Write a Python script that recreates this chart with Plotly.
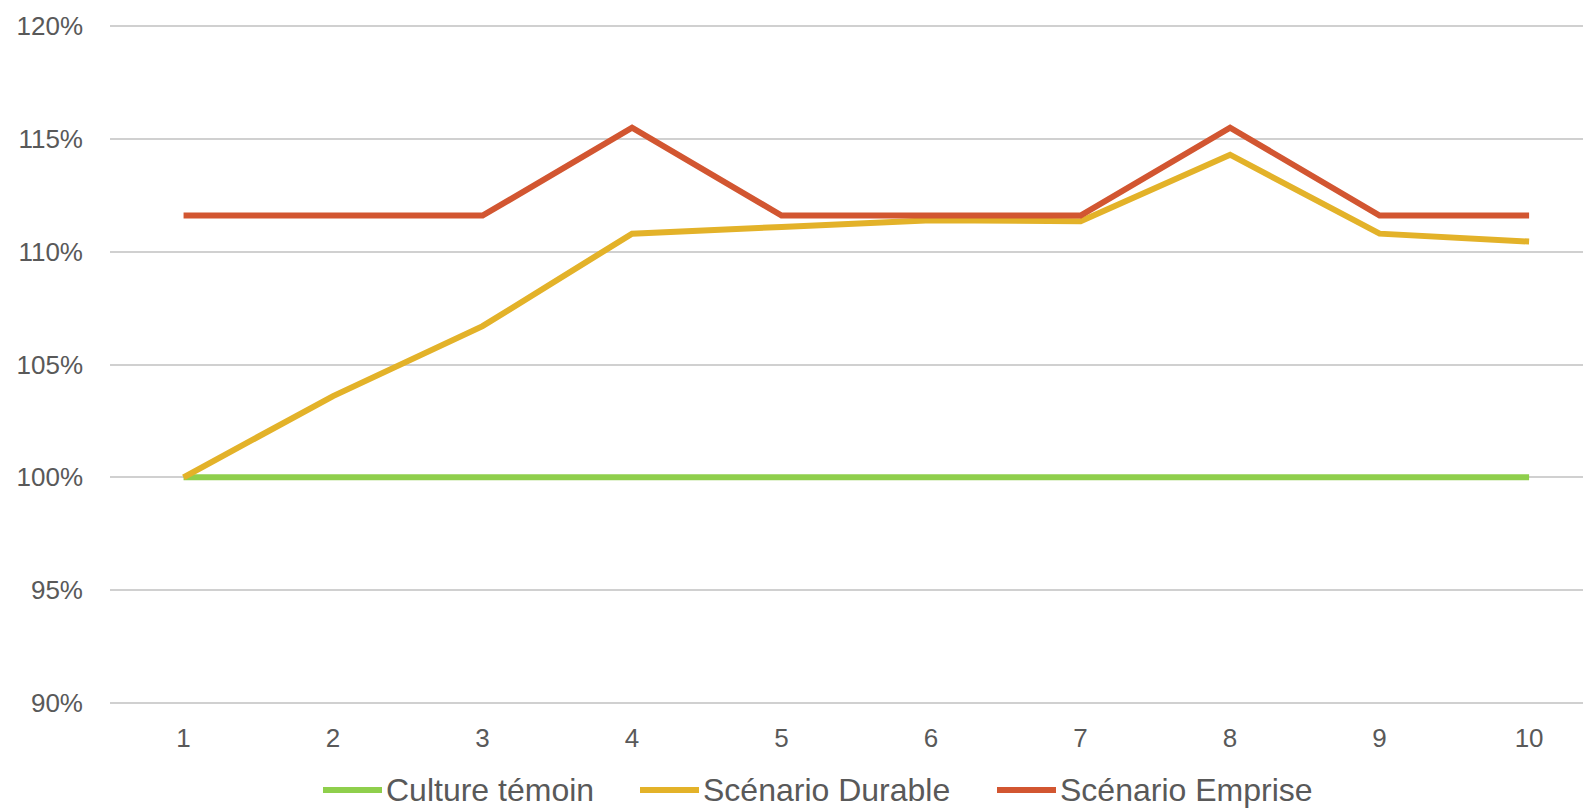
import plotly.graph_objects as go

# données
annees = [1, 2, 3, 4, 5, 6, 7, 8, 9, 10]
culture_temoin = [1.00, 1.00, 1.00, 1.00, 1.00, 1.00, 1.00, 1.00, 1.00, 1.00]
scenario_durable = [1.000, 1.036, 1.067, 1.108, 1.111, 1.114, 1.1135, 1.143, 1.108, 1.1045]
scenario_emprise = [1.116, 1.116, 1.116, 1.155, 1.116, 1.116, 1.116, 1.155, 1.116, 1.116]

noms = ["Culture témoin", "Scénario Durable", "Scénario Emprise"]
couleurs = ["#8fcf4c", "#e3b229", "#d25631"]
series = [culture_temoin, scenario_durable, scenario_emprise]

# la page ajoute 8px de marge autour du graphique
W, H = 1583, 803
L, R, T, B = 102, 0, 17, 107
gris = "#595959"
police = "Liberation Sans, Arial, sans-serif"

fig = go.Figure()
for nom, coul, vals in zip(noms, couleurs, series):
    fig.add_trace(go.Scatter(
        x=[str(a) for a in annees], y=vals, name=nom, mode="lines",
        line=dict(color=coul, width=6), showlegend=False,
    ))

# légende dessinée à la main (traits longs comme dans l'original)
pw = W - L - R
ph = H - T - B
leg_y = (H - B - 782) / ph
starts = [315, 632, 989]
for nom, coul, x0 in zip(noms, couleurs, starts):
    fig.add_shape(type="line", xref="paper", yref="paper",
                  x0=(x0 - L) / pw, x1=(x0 + 59 - L) / pw, y0=leg_y, y1=leg_y,
                  line=dict(color=coul, width=6))
    fig.add_annotation(xref="paper", yref="paper", x=(x0 + 61 - L) / pw, y=leg_y,
                       text=nom, showarrow=False, xanchor="left", yanchor="middle",
                       font=dict(size=32, color=gris, family=police))

fig.update_layout(
    width=W, height=H,
    margin=dict(l=L, r=R, t=T, b=B),
    plot_bgcolor="white", paper_bgcolor="white",
    font=dict(family=police, color=gris, size=26),
)
# l'original est rogné à droite : la zone de tracé dépasse un peu
fig.update_xaxes(type="category", range=[-0.492, 9.414], showgrid=False, showline=False,
                 zeroline=False, ticks="", ticklabelstandoff=16,
                 tickfont=dict(size=26, color=gris))
fig.update_yaxes(range=[0.8995, 1.2005], dtick=0.05, tick0=0.9, tickformat=".0%",
                 showgrid=True, gridcolor="#d0d0d0", gridwidth=2, zeroline=False,
                 showline=False, ticks="", ticklabelstandoff=26,
                 tickfont=dict(size=26, color=gris))

fig.write_html("out.html")
